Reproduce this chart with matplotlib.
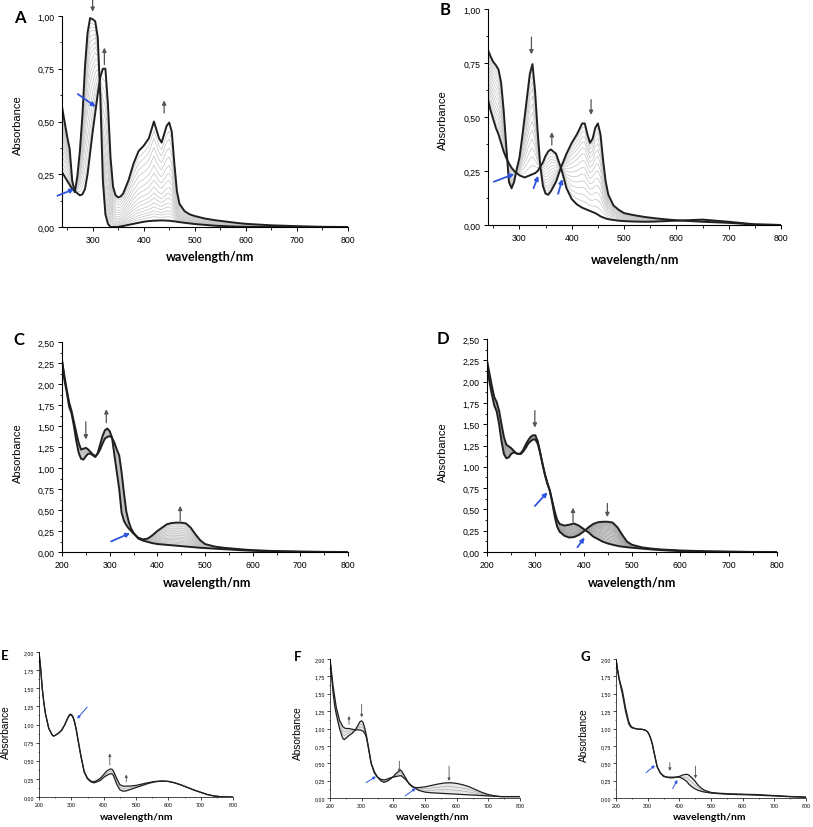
import numpy as np
import matplotlib
matplotlib.use('Agg')
import matplotlib.pyplot as plt
from matplotlib.ticker import FuncFormatter, MultipleLocator

W, H = 813, 828

# ---------------- panel A ----------------
wl_ab = [240, 245, 250, 255, 260, 265, 270, 275, 280, 285, 290, 295, 300, 305, 310, 315, 320, 325, 330, 335,
         340, 345, 350, 355, 360, 370, 380, 390, 400, 410, 420, 425, 430, 435, 440, 445, 450, 455, 460, 465,
         470, 480, 490, 500, 520, 540, 560, 580, 600, 650, 700, 750, 800]
a_start = [0.57, 0.50, 0.43, 0.37, 0.22, 0.165, 0.24, 0.36, 0.53, 0.76, 0.92, 0.99, 0.985, 0.975, 0.90, 0.62, 0.22, 0.06,
           0.015, 0.0, 0.0, 0.0, 0.0, 0.003, 0.005, 0.01, 0.015, 0.02, 0.025, 0.028, 0.03, 0.03, 0.031, 0.031, 0.031,
           0.03, 0.03, 0.028, 0.027, 0.025, 0.023, 0.02, 0.017, 0.014, 0.01, 0.006, 0.004, 0.002, 0.001, 0, 0, 0, 0]
a_end = [0.26, 0.24, 0.22, 0.20, 0.18, 0.17, 0.16, 0.15, 0.155, 0.18, 0.25, 0.35, 0.45, 0.54, 0.63, 0.71, 0.75, 0.75,
         0.58, 0.33, 0.19, 0.15, 0.14, 0.145, 0.16, 0.22, 0.30, 0.36, 0.385, 0.42, 0.50, 0.46, 0.42, 0.40, 0.44,
         0.48, 0.495, 0.45, 0.30, 0.17, 0.11, 0.075, 0.06, 0.052, 0.04, 0.032, 0.026, 0.02, 0.015, 0.008, 0.004, 0.001, 0]
a_fracs = [0.04, 0.07, 0.1, 0.14, 0.18, 0.23, 0.28, 0.34, 0.41, 0.48, 0.56, 0.65, 0.74, 0.83, 0.91]

# ---------------- panel B ----------------
b_start = [0.81, 0.78, 0.755, 0.74, 0.72, 0.66, 0.53, 0.36, 0.20, 0.17, 0.20, 0.26, 0.31, 0.40, 0.50, 0.60, 0.70, 0.745,
           0.62, 0.43, 0.27, 0.18, 0.145, 0.14, 0.155, 0.20, 0.27, 0.33, 0.38, 0.42, 0.47, 0.47, 0.42, 0.38, 0.40,
           0.45, 0.47, 0.42, 0.30, 0.20, 0.14, 0.09, 0.07, 0.055, 0.045, 0.037, 0.031, 0.026, 0.022, 0.015, 0.01, 0.002, 0]
b_end = [0.58, 0.53, 0.49, 0.45, 0.42, 0.38, 0.34, 0.31, 0.285, 0.265, 0.25, 0.24, 0.23, 0.225, 0.22, 0.225, 0.23, 0.235,
         0.24, 0.25, 0.27, 0.29, 0.32, 0.34, 0.35, 0.33, 0.26, 0.17, 0.12, 0.095, 0.08, 0.075, 0.07, 0.065, 0.06,
         0.055, 0.048, 0.04, 0.035, 0.03, 0.027, 0.023, 0.02, 0.018, 0.016, 0.015, 0.016, 0.018, 0.02, 0.025, 0.015, 0.003, 0]
b_fracs = [0.05, 0.1, 0.16, 0.22, 0.29, 0.36, 0.44, 0.52, 0.6, 0.68, 0.76, 0.84, 0.92]

# ---------------- panel C / D ----------------
wl_cd = [200, 205, 210, 215, 220, 225, 230, 235, 240, 245, 250, 255, 260, 265, 270, 275, 280, 285, 290, 295, 300,
         305, 310, 315, 320, 325, 330, 335, 340, 345, 350, 360, 370, 380, 390, 400, 410, 420, 430, 440, 450, 460,
         470, 480, 490, 500, 520, 540, 560, 580, 600, 650, 700, 750, 800]
c_start = [2.28, 2.10, 1.93, 1.78, 1.68, 1.55, 1.42, 1.30, 1.22, 1.23, 1.24, 1.22, 1.19, 1.16, 1.14, 1.17, 1.22, 1.29,
           1.35, 1.37, 1.38, 1.36, 1.30, 1.22, 1.15, 0.95, 0.70, 0.48, 0.36, 0.28, 0.23, 0.16, 0.135, 0.12, 0.105,
           0.095, 0.09, 0.085, 0.08, 0.075, 0.07, 0.065, 0.06, 0.055, 0.05, 0.047, 0.04, 0.033, 0.027, 0.02, 0.015,
           0.008, 0.003, 0.001, 0]
c_end = [2.28, 2.05, 1.90, 1.73, 1.65, 1.50, 1.32, 1.18, 1.11, 1.10, 1.14, 1.17, 1.17, 1.15, 1.13, 1.18, 1.28, 1.38,
         1.45, 1.47, 1.44, 1.36, 1.15, 0.95, 0.75, 0.47, 0.37, 0.32, 0.28, 0.25, 0.22, 0.17, 0.15, 0.16, 0.20,
         0.25, 0.29, 0.33, 0.345, 0.35, 0.35, 0.34, 0.29, 0.21, 0.14, 0.095, 0.065, 0.05, 0.04, 0.03, 0.022,
         0.01, 0.004, 0.001, 0]
c_fracs = [0.05, 0.1, 0.15, 0.2, 0.26, 0.32, 0.38, 0.45, 0.52, 0.6, 0.68, 0.76, 0.84, 0.92]

d_start = [2.25, 2.10, 1.95, 1.82, 1.76, 1.66, 1.50, 1.35, 1.26, 1.24, 1.22, 1.19, 1.16, 1.15, 1.16, 1.20, 1.26, 1.31,
           1.35, 1.37, 1.37, 1.30, 1.17, 1.03, 0.90, 0.80, 0.72, 0.58, 0.42, 0.30, 0.24, 0.19, 0.17, 0.175, 0.20,
           0.24, 0.29, 0.33, 0.35, 0.355, 0.355, 0.345, 0.29, 0.20, 0.12, 0.085, 0.055, 0.04, 0.03, 0.024, 0.018,
           0.009, 0.004, 0.001, 0]
d_end = [2.20, 2.00, 1.85, 1.72, 1.65, 1.50, 1.30, 1.15, 1.10, 1.11, 1.15, 1.17, 1.16, 1.15, 1.15, 1.18, 1.22, 1.27,
         1.30, 1.32, 1.32, 1.27, 1.16, 1.03, 0.91, 0.81, 0.72, 0.60, 0.48, 0.38, 0.33, 0.31, 0.32, 0.335, 0.31,
         0.27, 0.23, 0.18, 0.15, 0.12, 0.10, 0.085, 0.072, 0.062, 0.056, 0.05, 0.04, 0.03, 0.022, 0.016, 0.011,
         0.005, 0.002, 0, 0]
d_fracs = [0.04, 0.08, 0.12, 0.16, 0.2, 0.25, 0.3, 0.35, 0.4, 0.46, 0.52, 0.58, 0.64, 0.7, 0.76, 0.82, 0.88, 0.94]

# ---------------- panel E / F / G ----------------
wl_efg = [200, 205, 210, 215, 220, 230, 240, 245, 250, 260, 270, 280, 290, 295, 300, 305, 310, 315, 320, 330, 340,
          350, 360, 370, 380, 390, 400, 410, 420, 425, 430, 440, 450, 460, 470, 480, 500, 520, 540, 560, 580, 600,
          620, 640, 660, 680, 700, 720, 740, 760, 780, 800]
e_start = [2.0, 1.78, 1.5, 1.3, 1.15, 0.95, 0.86, 0.84, 0.85, 0.88, 0.92, 1.0, 1.1, 1.13, 1.13, 1.1, 1.03, 0.93, 0.8,
           0.55, 0.34, 0.25, 0.21, 0.195, 0.21, 0.23, 0.27, 0.3, 0.32, 0.32, 0.3, 0.18, 0.1, 0.08, 0.085, 0.1, 0.13,
           0.16, 0.19, 0.21, 0.22, 0.215, 0.195, 0.165, 0.13, 0.095, 0.065, 0.035, 0.015, 0.005, 0.001, 0]
e_end = [2.0, 1.78, 1.5, 1.3, 1.15, 0.95, 0.86, 0.84, 0.85, 0.88, 0.92, 1.0, 1.1, 1.14, 1.14, 1.11, 1.04, 0.94, 0.81,
         0.56, 0.35, 0.26, 0.22, 0.21, 0.23, 0.26, 0.31, 0.36, 0.385, 0.385, 0.36, 0.26, 0.17, 0.15, 0.15, 0.15, 0.16,
         0.18, 0.2, 0.215, 0.22, 0.215, 0.195, 0.165, 0.13, 0.095, 0.065, 0.035, 0.015, 0.005, 0.001, 0]
e_fracs = [0.5]

f_start = [2.0, 1.75, 1.5, 1.32, 1.2, 1.0, 0.86, 0.84, 0.86, 0.9, 0.93, 0.98, 1.06, 1.1, 1.11, 1.08, 1.0, 0.9, 0.77,
           0.5, 0.38, 0.3, 0.25, 0.225, 0.24, 0.27, 0.31, 0.36, 0.395, 0.395, 0.36, 0.28, 0.2, 0.16, 0.15, 0.15, 0.16,
           0.18, 0.2, 0.215, 0.22, 0.21, 0.19, 0.16, 0.12, 0.08, 0.05, 0.03, 0.02, 0.02, 0.02, 0.02]
f_end = [2.0, 1.8, 1.6, 1.45, 1.3, 1.12, 1.03, 1.01, 1.0, 1.0, 0.99, 0.98, 0.98, 0.98, 0.97, 0.96, 0.93, 0.87, 0.75,
         0.5, 0.36, 0.3, 0.27, 0.26, 0.27, 0.29, 0.3, 0.31, 0.32, 0.32, 0.3, 0.26, 0.21, 0.17, 0.14, 0.11, 0.085,
         0.075, 0.07, 0.065, 0.06, 0.055, 0.05, 0.045, 0.04, 0.035, 0.03, 0.025, 0.02, 0.02, 0.02, 0.02]
f_fracs = [0.35, 0.65]

g_start = [2.0, 1.85, 1.72, 1.63, 1.55, 1.3, 1.1, 1.05, 1.02, 1.0, 0.99, 0.99, 0.98, 0.97, 0.95, 0.91, 0.85, 0.77,
           0.66, 0.45, 0.36, 0.32, 0.3, 0.29, 0.29, 0.3, 0.31, 0.33, 0.34, 0.34, 0.33, 0.29, 0.24, 0.18, 0.14, 0.11,
           0.08, 0.07, 0.065, 0.06, 0.058, 0.055, 0.052, 0.05, 0.045, 0.04, 0.035, 0.03, 0.025, 0.02, 0.017, 0.015]
g_end = [2.0, 1.83, 1.7, 1.6, 1.5, 1.25, 1.07, 1.03, 1.01, 1.0, 0.99, 0.99, 0.98, 0.97, 0.95, 0.91, 0.85, 0.77,
         0.66, 0.45, 0.36, 0.31, 0.3, 0.3, 0.3, 0.3, 0.3, 0.28, 0.25, 0.23, 0.2, 0.16, 0.13, 0.11, 0.095, 0.085,
         0.072, 0.064, 0.058, 0.054, 0.05, 0.048, 0.045, 0.042, 0.038, 0.034, 0.03, 0.025, 0.02, 0.016, 0.013, 0.01]
g_fracs = [0.5]

# arrows: (x, y_from, y_to)
a_arrows = [(300, 1.075, 1.02), (323, 0.77, 0.85), (440, 0.54, 0.60)]
a_blue = [((271, 0.63), (306, 0.57)), ((231, 0.148), (264, 0.18))]
b_arrows = [(323, 0.87, 0.79), (437, 0.58, 0.51), (362, 0.37, 0.43)]
b_blue = [((251, 0.20), (290, 0.236)), ((327, 0.17), (336, 0.228)), ((374, 0.144), (382, 0.213))]
c_arrows = [(250, 1.55, 1.34), (293, 1.54, 1.70), (448, 0.37, 0.55)]
c_blue = [((303, 0.126), (343, 0.225))]
d_arrows = [(299, 1.66, 1.46), (378, 0.355, 0.52), (449, 0.57, 0.41)]
d_blue = [((299, 0.54), (325, 0.70)), ((387, 0.055), (402, 0.17))]
e_arrows = [(419, 0.44, 0.60), (470, 0.21, 0.31)]
e_blue = [((349, 1.24), (318, 1.08))]
f_arrows = [(260, 1.06, 1.18), (300, 1.35, 1.16), (419, 0.53, 0.37), (576, 0.46, 0.245)]
f_blue = [((314, 0.22), (345, 0.31)), ((437, 0.03), (471, 0.14))]
g_arrows = [(370, 0.51, 0.39), (451, 0.46, 0.28)]
g_blue = [((295, 0.365), (323, 0.47)), ((379, 0.135), (394, 0.26))]

fig = plt.figure(figsize=(W / 100, H / 100), dpi=100)
comma = FuncFormatter(lambda v, p: f"{v:.2f}".replace('.', ','))


def px_axes(l, t, r, b):
    return fig.add_axes([l / W, 1 - b / H, (r - l) / W, (b - t) / H])


def ftext(x, y, s, **kw):
    fig.text(x / W, 1 - y / H, s, ha='center', va='center', **kw)


def panel(box, wl, s, e, fracs, xlim, ymax, small=False, gray='#c4c4c4', fill=None):
    ax = px_axes(*box)
    wl = np.array(wl)
    s = np.array(s)
    e = np.array(e)
    if fill:
        ax.fill_between(wl, s, e, color=fill, lw=0)
    for f in fracs:
        ax.plot(wl, s + f * (e - s), color=gray, lw=0.5 if not small else 0.4)
    lw = 0.9 if small else 1.4
    ax.plot(wl, s, color='#202020', lw=lw)
    ax.plot(wl, e, color='#202020', lw=lw)
    ax.set_xlim(*xlim)
    ax.set_ylim(0, ymax)
    for sp in ['top', 'right']:
        ax.spines[sp].set_visible(False)
    for sp in ['left', 'bottom']:
        ax.spines[sp].set_linewidth(0.5 if small else 0.8)
    ax.xaxis.set_major_locator(MultipleLocator(100))
    ax.xaxis.set_minor_locator(MultipleLocator(50))
    ax.yaxis.set_major_locator(MultipleLocator(0.25))
    ax.yaxis.set_minor_locator(MultipleLocator(0.125))
    ax.yaxis.set_major_formatter(comma)
    fs = 3.8 if small else 6.3
    ax.tick_params(which='major', direction='out', length=2 if small else 3, width=0.5 if small else 0.7,
                   labelsize=fs, pad=1.5 if small else 2.5)
    ax.tick_params(which='minor', direction='out', length=1 if small else 1.8, width=0.4 if small else 0.6)
    for lab in ax.get_xticklabels() + ax.get_yticklabels():
        lab.set_fontfamily('Liberation Sans')
    return ax


def arrows(ax, lst, blue, small=False):
    ms = 4 if small else 6
    for x, y0, y1 in lst:
        ax.annotate('', xy=(x, y1), xytext=(x, y0), annotation_clip=False,
                    arrowprops=dict(arrowstyle='-|>', color='#555555', lw=0.6 if small else 0.9,
                                    mutation_scale=ms, shrinkA=0, shrinkB=0))
    for p0, p1 in blue:
        ax.annotate('', xy=p1, xytext=p0, annotation_clip=False,
                    arrowprops=dict(arrowstyle='-|>', color='#2f55e0', lw=0.7 if small else 1.3,
                                    mutation_scale=ms, shrinkA=0, shrinkB=0))


axA = panel((62, 17, 348, 228), wl_ab, a_start, a_end, a_fracs, (240, 800), 1.0)
arrows(axA, a_arrows, a_blue)
axB = panel((488, 10, 781, 226), wl_ab, b_start, b_end, b_fracs, (240, 800), 1.0)
arrows(axB, b_arrows, b_blue)
axC = panel((62, 343, 348, 553), wl_cd, c_start, c_end, c_fracs, (200, 800), 2.5, gray='#bdbdbd', fill='#ededed')
arrows(axC, c_arrows, c_blue)
axD = panel((487, 340, 777, 553), wl_cd, d_start, d_end, d_fracs, (200, 800), 2.5, gray='#a2a2a2', fill='#e2e2e2')
arrows(axD, d_arrows, d_blue)
axE = panel((39, 653, 233, 798), wl_efg, e_start, e_end, e_fracs, (200, 800), 2.0, small=True, gray='#a0a0a0', fill='#e8e8e8')
arrows(axE, e_arrows, e_blue, small=True)
axF = panel((330, 660, 520, 799), wl_efg, f_start, f_end, f_fracs, (200, 800), 2.0, small=True, gray='#a0a0a0', fill='#e8e8e8')
arrows(axF, f_arrows, f_blue, small=True)
axG = panel((616, 660, 806, 799), wl_efg, g_start, g_end, g_fracs, (200, 800), 2.0, small=True, gray='#a0a0a0', fill='#e8e8e8')
arrows(axG, g_arrows, g_blue, small=True)

# labels
big = dict(fontfamily='Lato', fontweight='bold')
ftext(20, 18, 'A', fontsize=12, **big)
ftext(445, 10, 'B', fontsize=12, **big)
ftext(19, 340, 'C', fontsize=12, **big)
ftext(443, 339, 'D', fontsize=12, **big)
ftext(5, 656, 'E', fontsize=9.5, **big)
ftext(298, 657, 'F', fontsize=9.5, **big)
ftext(585, 657, 'G', fontsize=9.5, **big)

ab = dict(fontfamily='Liberation Sans', rotation=90)
ftext(18, 125, 'Absorbance', fontsize=8, **ab)
ftext(443, 120, 'Absorbance', fontsize=8, **ab)
ftext(18, 453, 'Absorbance', fontsize=8, **ab)
ftext(443, 452, 'Absorbance', fontsize=8, **ab)
ftext(6, 732, 'Absorbance', fontsize=7.3, **ab)
ftext(298, 733, 'Absorbance', fontsize=7.3, **ab)
ftext(584, 735, 'Absorbance', fontsize=7.3, **ab)

wv = dict(fontfamily='Lato', fontweight='bold')
ftext(210, 257, 'wavelength/nm', fontsize=9, **wv)
ftext(635, 260, 'wavelength/nm', fontsize=9, **wv)
ftext(207, 583, 'wavelength/nm', fontsize=9, **wv)
ftext(632, 583, 'wavelength/nm', fontsize=9, **wv)
ftext(137, 818, 'wavelength/nm', fontsize=7.5, **wv)
ftext(433, 818, 'wavelength/nm', fontsize=7.5, **wv)
ftext(710, 818, 'wavelength/nm', fontsize=7.5, **wv)

fig.savefig('out.png', dpi=100)
